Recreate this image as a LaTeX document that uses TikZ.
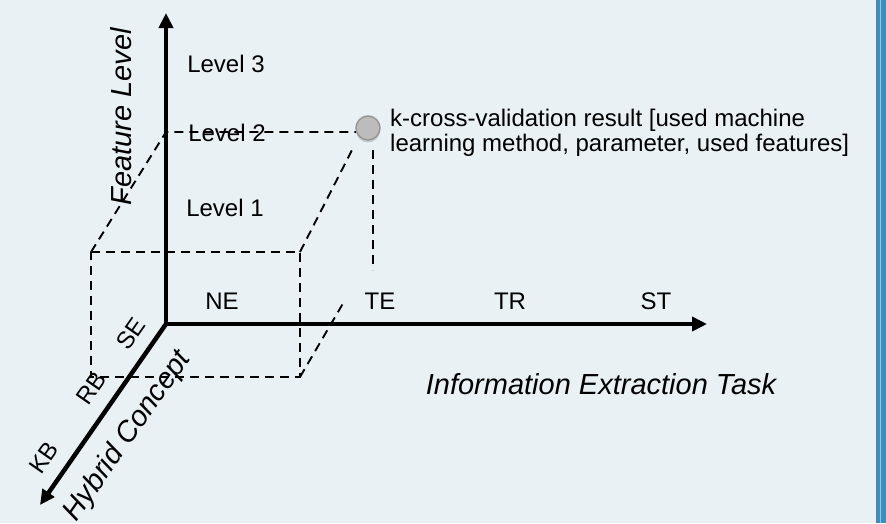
\documentclass[tikz,border=0pt]{standalone}
\usepackage{fontspec}
\setmainfont{Liberation Sans}
\usetikzlibrary{arrows.meta,shadows}
\definecolor{bg}{RGB}{234,241,245}
\definecolor{barblue}{RGB}{58,143,190}
\definecolor{barlight}{RGB}{150,200,225}
\definecolor{dotfill}{RGB}{188,188,188}
\definecolor{dotline}{RGB}{150,150,150}
\tikzset{
  axis/.style={line width=4.5pt, -{Triangle[length=15pt,width=14pt]}},
  guide/.style={line width=1.9pt, dash pattern=on 9pt off 6pt},
  lbl/.style={font=\fontsize{24}{25.5}\selectfont, inner sep=0pt},
  axlbl/.style={font=\fontsize{29}{32}\selectfont\itshape, inner sep=0pt},
  result/.style={circle, fill=dotfill, draw=dotline, line width=1.5pt,
    minimum size=24pt, inner sep=0pt,
    drop shadow={opacity=0.35, shadow xshift=0pt, shadow yshift=-2.5pt}},
}
\begin{document}
\begin{tikzpicture}[x=1pt,y=-1pt]
% background and right-hand frame strip
\fill[bg] (0,0) rectangle (886,523);
\useasboundingbox (0,0) rectangle (886,523);
\fill[barblue] (876,0) rectangle (886,523);
\draw[barlight, line width=1pt] (880,0) -- (880,523);

% axes origin and tips
\coordinate (O) at (166,324);
\coordinate (ytip) at (166,13);
\coordinate (xtip) at (707,324);
\coordinate (ztip) at (40,505);

% corners of the projection box
\coordinate (ftl) at (91,252);
\coordinate (ftr) at (300,252);
\coordinate (fbl) at (91,377);
\coordinate (fbr) at (300,377);
\coordinate (btl) at (166,132);
\coordinate (btr) at (352,150);
\coordinate (bbr) at (345,300);
\coordinate (vtop) at (373,150);
\coordinate (vbot) at (373,270);
\coordinate (rp) at (368,128);
\coordinate (rpw) at (356,132);

% level and task labels
\node[lbl] (l3) at (226,64) {Level 3};
\node[lbl] (l2) at (227,133) {Level 2};
\node[lbl] (l1) at (225,208) {Level 1};
\node[lbl] (ne) at (222,301) {NE};
\node[lbl] (te) at (380,301) {TE};
\node[lbl] (tr) at (510,301) {TR};
\node[lbl] (st) at (656,301) {ST};
\node[lbl, rotate=55] (se) at (131,334) {SE};
\node[lbl, rotate=55] (rb) at (91,388) {RB};
\node[lbl, rotate=55] (kb) at (44,458) {KB};

% axis titles
\node[axlbl, rotate=90] (fl) at (121,117) {Feature Level};
\node[axlbl] (iet) at (601,384) {Information Extraction Task};
\node[axlbl, rotate=55] (hc) at (128,436) {Hybrid Concept};

% result description
\node[lbl, align=left, anchor=north west] (desc) at (390,108.5)
  {k-cross-validation result [used machine\\learning method, parameter, used features]};

% dashed projection lines
\draw[guide] (ftl) -- (ftr) -- (fbr) -- (fbl) -- cycle;
\draw[guide] (ftl) -- (btl) -- (rpw);
\draw[guide] (ftr) -- (btr);
\draw[guide] (fbr) -- (bbr);
\draw[guide] (vtop) -- (vbot);

% axes
\draw[axis] (O) -- (ytip);
\draw[axis] (O) -- (xtip);
\draw[axis] (O) -- (ztip);

% result point on top of the guides
\node[result] (res) at (rp) {};
\end{tikzpicture}
\end{document}
